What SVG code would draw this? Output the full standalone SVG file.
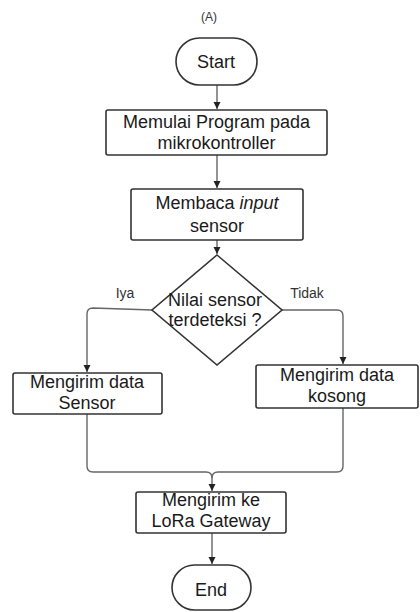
<svg xmlns="http://www.w3.org/2000/svg" width="420" height="612" viewBox="0 0 420 612">
<defs>
<marker id="arr" markerUnits="userSpaceOnUse" markerWidth="8" markerHeight="8" refX="7" refY="4" orient="auto">
<path d="M0,0.5 L7,4 L0,7.5 z" fill="#222"/>
</marker>
<style>
.box{fill:#fff;stroke:#333;stroke-width:1.6}
.t{font-family:"Liberation Sans",Arial,sans-serif;font-size:18px;fill:#1a1a1a;text-anchor:middle}
.lbl{font-family:"Liberation Sans",Arial,sans-serif;font-size:14px;fill:#333;text-anchor:middle}
.c{fill:none;stroke:#666;stroke-width:1.4}
</style>
</defs>
<rect width="420" height="612" fill="#fff"/>
<text class="lbl" x="209" y="21" font-size="12" style="font-size:12px">(A)</text>
<g id="connectors">
<path class="c" d="M217,85 L217,109" marker-end="url(#arr)"/>
<path class="c" d="M217,155 L217,188" marker-end="url(#arr)"/>
<path class="c" d="M217,240 L217,254" marker-end="url(#arr)"/>
<path class="c" d="M152,310 L93,308 Q87,308 87,314 L87,372" marker-end="url(#arr)"/>
<path class="c" d="M282,310 L337,310 Q343,310 343,316 L343,364" marker-end="url(#arr)"/>
<path class="c" d="M87,414 L87,466 Q87,472 93,472 L206,472 Q212,472 212,478 L212,491" marker-end="url(#arr)"/>
<path class="c" d="M343,408 L343,466 Q343,472 337,472 L218,472 Q212,472 212,478"/>
<path class="c" d="M212,533 L212,564" marker-end="url(#arr)"/>
</g>
<g id="start">
<rect class="box" x="176" y="38" width="81" height="47" rx="23.5"/>
<text class="t" x="216" y="68">Start</text>
</g>
<g id="memulai">
<rect class="box" x="106" y="110" width="221" height="45" rx="2"/>
<text class="t" x="216.5" y="128">Memulai Program pada</text>
<text class="t" x="216.5" y="149">mikrokontroller</text>
</g>
<g id="membaca">
<rect class="box" x="131" y="189" width="172" height="51" rx="2"/>
<text class="t" x="217" y="209">Membaca <tspan font-style="italic">input</tspan></text>
<text class="t" x="217" y="232">sensor</text>
</g>
<g id="decision">
<polygon class="box" points="217,255 282,310 217,365 152,310"/>
<text class="t" x="215" y="306">Nilai sensor</text>
<text class="t" x="215" y="326">terdeteksi ?</text>
</g>
<text class="lbl" x="125" y="298">Iya</text>
<text class="lbl" x="307" y="298">Tidak</text>
<g id="kirim-sensor">
<rect class="box" x="13" y="373" width="149" height="41" rx="2"/>
<text class="t" x="87" y="388">Mengirim data</text>
<text class="t" x="87" y="409">Sensor</text>
</g>
<g id="kirim-kosong">
<rect class="box" x="256" y="365" width="162" height="43" rx="2"/>
<text class="t" x="337" y="381">Mengirim data</text>
<text class="t" x="337" y="402">kosong</text>
</g>
<g id="kirim-gateway">
<rect class="box" x="136" y="492" width="150" height="41" rx="2"/>
<text class="t" x="211" y="506">Mengirim ke</text>
<text class="t" x="211" y="527">LoRa Gateway</text>
</g>
<g id="end">
<rect class="box" x="172" y="565" width="79" height="45" rx="22.5"/>
<text class="t" x="211" y="596">End</text>
</g>
</svg>
